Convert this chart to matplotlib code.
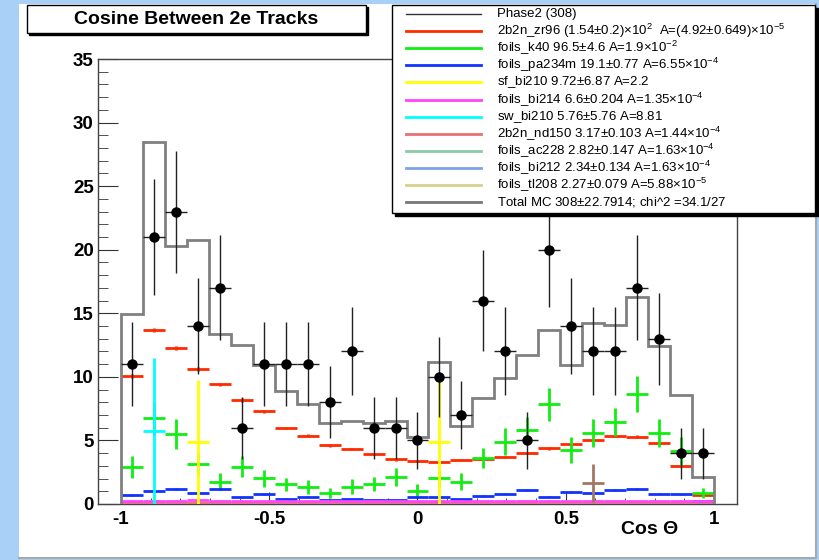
#!/usr/bin/env python3
import matplotlib
matplotlib.use("Agg")
import matplotlib.pyplot as plt
from matplotlib.patches import Rectangle
from matplotlib.lines import Line2D
from matplotlib.ticker import MultipleLocator
import numpy as np

plt.rcParams['font.family'] = ['Liberation Sans', 'DejaVu Sans']
plt.rcParams['mathtext.fontset'] = 'custom'
plt.rcParams['mathtext.rm'] = 'Liberation Sans'
plt.rcParams['mathtext.default'] = 'regular'

# 27 bins of cos(theta) between -1 and 1
bin_edges = np.linspace(-1, 1, 28)

# Phase2 data (308 events)
phase2 = [11, 21, 23, 14, 17, 6, 11, 11, 11, 8, 12, 6, 6, 5, 10, 7, 16, 12, 5, 20,
          14, 12, 12, 17, 13, 4, 4]

# sum of all MC components
total_mc = [14.95, 28.5, 20.3, 20.8, 13.4, 12.5, 10.9, 8.9, 7.84, 6.4, 6.55, 6.4, 6.55,
            5.3, 11.2, 6.1, 8.3, 9.9, 11.7, 13.7, 10.9, 14.2, 14.1, 16.3, 12.45, 8.6, 2.1]

zr96 = [10.07, 13.7, 12.25, 10.6, 9.41, 8.18, 7.31, 5.98, 5.37, 4.61, 4.30, 3.93, 3.51,
        3.36, 3.28, 3.46, 3.54, 3.72, 3.99, 4.38, 4.69, 5.03, 5.37, 5.30, 4.83, 3.02, 0.70]
zr96_err = [0.14, 0.16, 0.15, 0.14, 0.13, 0.12, 0.12, 0.11, 0.10, 0.10, 0.09, 0.09, 0.09,
            0.08, 0.08, 0.09, 0.09, 0.09, 0.09, 0.10, 0.10, 0.10, 0.10, 0.10, 0.10, 0.08, 0.04]

k40 = [2.89, 6.74, 5.5, 3.15, 1.76, 2.94, 2.02, 1.55, 1.36, 0.89, 1.36, 1.55, 2.15, 1.05,
       2.02, 1.76, 3.6, 4.9, 5.82, 7.84, 4.25, 5.56, 6.45, 8.65, 5.56, 4.2, 0.89]
k40_err = [0.85, 1.3, 1.15, 0.9, 0.65, 0.8, 0.65, 0.5, 0.55, 0.4, 0.6, 0.55, 0.7, 0.55,
           0.65, 0.65, 0.8, 1.05, 1.05, 1.3, 1.0, 1.1, 1.1, 1.4, 1.1, 1.1, 0.4]

pa234m = [0.71, 1.02, 1.15, 0.84, 1.15, 0.52, 0.79, 0.42, 0.58, 0.29, 0.37, 0.31, 0.31,
          0.52, 0.52, 0.37, 0.63, 0.81, 1.1, 0.58, 0.94, 0.84, 1.13, 1.21, 0.81, 0.76, 0.24]
pa234m_err = [0.06, 0.07, 0.07, 0.06, 0.07, 0.05, 0.06, 0.04, 0.05, 0.04, 0.04, 0.04, 0.04,
              0.05, 0.05, 0.04, 0.05, 0.06, 0.07, 0.05, 0.06, 0.06, 0.07, 0.07, 0.06, 0.06, 0.03]

sf_bi210 = [0, 0, 0, 4.86, 0, 0, 0, 0, 0, 0, 0, 0, 0, 0, 4.86, 0, 0, 0, 0, 0,
            0, 0, 0, 0, 0, 0, 0]
sw_bi210 = [0, 5.76, 0, 0, 0, 0, 0, 0, 0, 0, 0, 0, 0, 0, 0, 0, 0, 0, 0, 0,
            0, 0, 0, 0, 0, 0, 0]
bi214 = [0.26, 0.25, 0.27, 0.28, 0.26, 0.24, 0.25, 0.23, 0.24, 0.22, 0.23, 0.24, 0.22, 0.23,
         0.24, 0.25, 0.22, 0.24, 0.26, 0.27, 0.25, 0.26, 0.24, 0.25, 0.23, 0.22, 0.21]
nd150 = [0.13, 0.12, 0.12, 0.11, 0.12, 0.11, 0.12, 0.12, 0.11, 0.12, 0.12, 0.11, 0.12, 0.12,
         0.11, 0.12, 0.12, 0.12, 0.11, 0.12, 0.12, 0.12, 0.11, 0.12, 0.12, 0.11, 0.10]
ac228 = [0.11, 0.10, 0.11, 0.10, 0.11, 0.10, 0.10, 0.11, 0.10, 0.11, 0.10, 0.11, 0.10, 0.10,
         0.11, 0.10, 0.11, 0.10, 0.11, 0.10, 0.11, 0.10, 0.11, 0.10, 0.11, 0.10, 0.09]
bi212 = [0.09, 0.09, 0.08, 0.09, 0.09, 0.08, 0.09, 0.09, 0.08, 0.09, 0.09, 0.08, 0.09, 0.09,
         0.08, 0.09, 0.09, 0.08, 0.09, 0.09, 0.08, 0.09, 0.09, 0.08, 0.09, 0.08, 0.07]
tl208 = [0.09, 0.08, 0.09, 0.08, 0.08, 0.09, 0.08, 0.08, 0.09, 0.08, 0.08, 0.09, 0.08, 0.08,
         0.09, 0.08, 0.08, 0.09, 0.08, 0.08, 0.09, 0.08, 0.08, 0.09, 0.08, 0.08, 0.08]
# a small component that is not listed in the legend
other = [0, 0, 0, 0, 0, 0, 0, 0, 0, 0, 0, 0, 0, 0, 0, 0, 0, 0, 0, 0,
         0, 1.65, 0, 0, 0, 0, 0]
other_err = [0, 0, 0, 0, 0, 0, 0, 0, 0, 0, 0, 0, 0, 0, 0, 0, 0, 0, 0, 0,
             0, 1.5, 0, 0, 0, 0, 0]

legend_labels = [
    "Phase2 (308)",
    r"2b2n_zr96 (1.54$\pm$0.2)$\times$10$^{2}$  A=(4.92$\pm$0.649)$\times$10$^{-5}$",
    r"foils_k40 96.5$\pm$4.6 A=1.9$\times$10$^{-2}$",
    r"foils_pa234m 19.1$\pm$0.77 A=6.55$\times$10$^{-4}$",
    r"sf_bi210 9.72$\pm$6.87 A=2.2",
    r"foils_bi214 6.6$\pm$0.204 A=1.35$\times$10$^{-4}$",
    r"sw_bi210 5.76$\pm$5.76 A=8.81",
    r"2b2n_nd150 3.17$\pm$0.103 A=1.44$\times$10$^{-4}$",
    r"foils_ac228 2.82$\pm$0.147 A=1.63$\times$10$^{-4}$",
    r"foils_bi212 2.34$\pm$0.134 A=1.63$\times$10$^{-4}$",
    r"foils_tl208 2.27$\pm$0.079 A=5.88$\times$10$^{-5}$",
    "Total MC 308$\\pm$22.7914; chi^2 =34.1/27",
]
legend_colors = ['#333333', '#ff2a00', '#11ee11', '#1133ff', '#ffff00', '#ff44ff',
                 '#00ffff', '#e87070', '#8ccaa2', '#7fa4e6', '#d8d08c', '#777777']

W, H = 820, 560


def px_box(x0, y0, x1, y1):
    """pixel box (top-left origin) -> figure fraction (left, bottom, width, height)"""
    return x0 / W, 1 - y1 / H, (x1 - x0) / W, (y1 - y0) / H


def add_box(fig, x0, y0, x1, y1, shadow, z):
    l, b, w, h = px_box(x0 + shadow, y0 + shadow, x1 + shadow, y1 + shadow)
    fig.patches.append(Rectangle((l, b), w, h, transform=fig.transFigure,
                                 facecolor='black', edgecolor='black', zorder=z))
    l, b, w, h = px_box(x0, y0, x1, y1)
    fig.patches.append(Rectangle((l, b), w, h, transform=fig.transFigure,
                                 facecolor='white', edgecolor='black', lw=1, zorder=z + 0.1))


fig = plt.figure(figsize=(8.2, 5.6), dpi=100)
fig.patch.set_facecolor('#a9d1f7')

# white canvas pad with a grey bevel at right and bottom
l, b, w, h = px_box(19, 4, 816, 558)
fig.patches.append(Rectangle((l, b), w, h, transform=fig.transFigure,
                             facecolor='white', edgecolor='none', zorder=-10))
fig.lines.append(Line2D([19 / W, 816 / W, 816 / W], [1 - 558 / H, 1 - 558 / H, 1 - 4 / H],
                        transform=fig.transFigure, color='#a8a8a8', lw=1.5, zorder=-9))

ax = fig.add_axes(px_box(98, 59, 737, 504))
ax.set_facecolor('white')

centers = 0.5 * (bin_edges[:-1] + bin_edges[1:])
half = 0.5 * (bin_edges[1] - bin_edges[0])


def draw_component(values, errors, color, lw=2):
    vals = np.asarray(values, dtype=float)
    errs = np.asarray(errors, dtype=float)
    keep = vals > 0
    ax.errorbar(centers[keep], vals[keep], xerr=half, yerr=errs[keep], fmt='none',
                ecolor=color, elinewidth=lw, capsize=0, zorder=3)


draw_component(tl208, [0.01] * 27, legend_colors[10])
draw_component(bi212, [0.01] * 27, legend_colors[9])
draw_component(ac228, [0.01] * 27, legend_colors[8])
draw_component(nd150, [0.01] * 27, legend_colors[7])
draw_component(zr96, zr96_err, legend_colors[1])
draw_component(k40, k40_err, legend_colors[2])
draw_component(pa234m, pa234m_err, legend_colors[3])
draw_component(bi214, [0.02] * 27, legend_colors[5])
draw_component(sf_bi210, sf_bi210, legend_colors[4])
draw_component(sw_bi210, sw_bi210, legend_colors[6])
draw_component(other, other_err, '#a07862')

ax.stairs(total_mc, bin_edges, baseline=0, color='#808080', lw=2, zorder=4)

data = np.asarray(phase2, dtype=float)
ax.errorbar(centers, data, xerr=half, yerr=np.sqrt(data), fmt='o', color='black',
            ecolor='#222222', elinewidth=1, ms=6.5, capsize=0, zorder=5)

ax.set_xlim(-1.077, 1.077)
ax.set_ylim(0, 35)
ax.set_xticks([-1, -0.5, 0, 0.5, 1])
ax.set_xticklabels(['-1', '-0.5', '0', '0.5', '1'])
ax.xaxis.set_minor_locator(MultipleLocator(0.1))
ax.set_yticks(range(0, 36, 5))
ax.yaxis.set_minor_locator(MultipleLocator(1))
ax.tick_params(axis='both', which='both', direction='in', color='#333333',
               top=False, right=False, labelsize=13.5)
ax.tick_params(axis='y', which='major', length=14.4, pad=3)
ax.tick_params(axis='y', which='minor', length=7.2)
ax.tick_params(axis='x', which='major', length=8.6, pad=5)
ax.tick_params(axis='x', which='minor', length=4.3)
for lab in ax.get_xticklabels() + ax.get_yticklabels():
    lab.set_fontweight('bold')
for sp in ax.spines.values():
    sp.set_color('#444444')
    sp.set_linewidth(1)

fig.text(650 / W, 1 - 530 / H, "Cos \u0398", ha='center', va='center',
         fontsize=14, fontweight='bold')

# title box
add_box(fig, 27, 5, 366, 33, 2, 6)
fig.text(196 / W, 1 - 19.5 / H, "Cosine Between 2e Tracks", ha='center', va='center',
         fontsize=14, fontweight='bold', zorder=7)

# legend box
add_box(fig, 392, 5, 815, 213, 3, 6)
for i, (lab, col) in enumerate(zip(legend_labels, legend_colors)):
    y = 1 - (14 + 17.1 * i) / H
    lw = 1 if i == 0 else 2
    fig.lines.append(Line2D([406 / W, 481 / W], [y, y], transform=fig.transFigure,
                            color=col, lw=lw, zorder=7))
    fig.text(497 / W, y, lab, ha='left', va='center', fontsize=9.5, zorder=7)

fig.savefig("out.png", dpi=100, facecolor=fig.get_facecolor())
